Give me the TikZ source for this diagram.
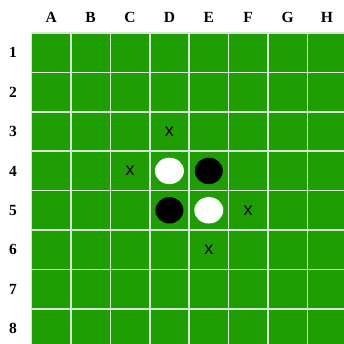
\documentclass[tikz,border=0pt]{standalone}
\usepackage{fontspec}
\setmainfont{Liberation Serif}
\newfontfamily\markfont{Liberation Sans}
\definecolor{boardgreen}{RGB}{31,158,4}
\definecolor{gridline}{RGB}{215,230,210}
\tikzset{
  lbl/.style={font=\fontsize{15.5}{15.5}\selectfont\bfseries, inner sep=0pt},
  mv/.style={font=\markfont\fontsize{18}{18}\selectfont, inner sep=0pt},
  whitedisc/.style={fill=white, draw=none},
  blackdisc/.style={fill=black, draw=none},
}
\begin{document}
\begin{tikzpicture}[x=1pt,y=-1pt]
\useasboundingbox (0,0) rectangle (344,343);
\def\s{39.4}
\def\ox{31.5}
\def\oy{33}
\begin{scope}
\clip (0,0) rectangle (344,343);
\fill[boardgreen] (\ox,\oy) rectangle (\ox+8*\s,\oy+8*\s);
\foreach \i in {0,...,8} {
  \draw[gridline, line width=1.6pt] (\ox+\i*\s,\oy) -- (\ox+\i*\s,\oy+8*\s);
  \draw[gridline, line width=1.6pt] (\ox,\oy+\i*\s) -- (\ox+8*\s,\oy+\i*\s);
}
\end{scope}
\foreach \l [count=\i from 0] in {A,B,C,D,E,F,G,H} {
  \node[lbl] (col\l) at (\ox+\i*\s+0.5*\s,17) {\l};
}
\foreach \n [count=\i from 0] in {1,...,8} {
  \node[lbl] (row\n) at (13,\oy+\i*\s+0.5*\s) {\n};
}
% discs
\fill[whitedisc] (\ox+3.5*\s,\oy+3.5*\s) ellipse [x radius=14.5, y radius=13.2];
\fill[blackdisc] (\ox+4.5*\s,\oy+3.5*\s) ellipse [x radius=14, y radius=13.2];
\fill[blackdisc] (\ox+3.5*\s,\oy+4.5*\s) ellipse [x radius=14, y radius=13.2];
\fill[whitedisc] (\ox+4.5*\s,\oy+4.5*\s) ellipse [x radius=14.5, y radius=13.2];
% possible moves
\node[mv] (d3) at (\ox+3.5*\s,\oy+2.5*\s) {x};
\node[mv] (c4) at (\ox+2.5*\s,\oy+3.5*\s) {x};
\node[mv] (f5) at (\ox+5.5*\s,\oy+4.5*\s) {x};
\node[mv] (e6) at (\ox+4.5*\s,\oy+5.5*\s) {x};
\end{tikzpicture}
\end{document}
